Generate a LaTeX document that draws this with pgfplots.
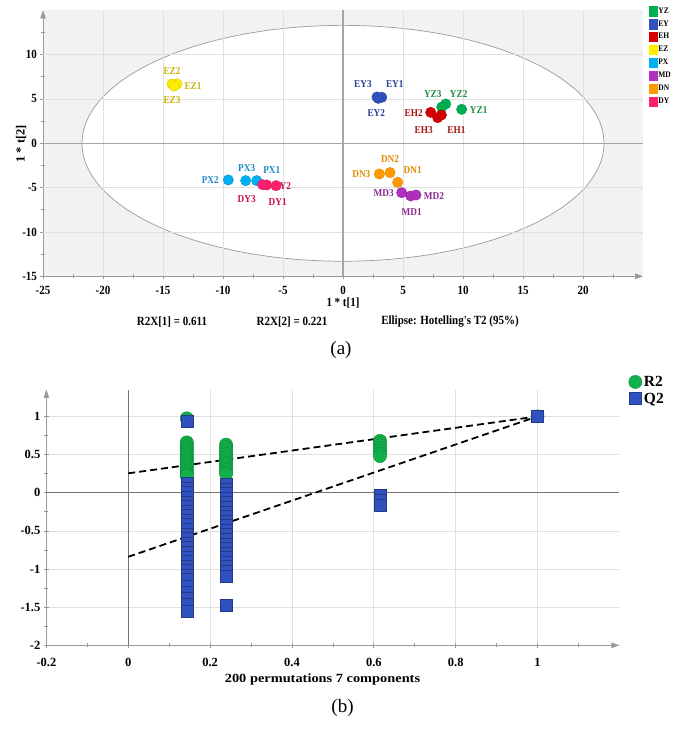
\documentclass[border=0pt]{standalone}
\usepackage{fontspec}
\setmainfont{Liberation Serif}
\newfontfamily\chartfont{Liberation Serif}[FakeStretch=0.88]
\newfontfamily\widefont{Liberation Serif}[FakeStretch=1.15]
\usepackage{pgfplots}
\pgfplotsset{compat=1.18}
\usepackage{pgfplotstable}
\usetikzlibrary{arrows.meta}

% group colours (marker fill / label text)
\definecolor{cYZ}{HTML}{00B050}\definecolor{lYZ}{HTML}{1A9040}
\definecolor{cEY}{HTML}{3052BE}\definecolor{lEY}{HTML}{2B3F95}
\definecolor{cEH}{HTML}{D40000}\definecolor{lEH}{HTML}{A81414}
\definecolor{cEZ}{HTML}{FFEE00}\definecolor{lEZ}{HTML}{C8B400}
\definecolor{cPX}{HTML}{00B0F0}\definecolor{lPX}{HTML}{1A8CC4}
\definecolor{cMD}{HTML}{B030BE}\definecolor{lMD}{HTML}{8C2A92}
\definecolor{cDN}{HTML}{FF9A00}\definecolor{lDN}{HTML}{E08A00}
\definecolor{cDY}{HTML}{FF1F6E}\definecolor{lDY}{HTML}{C8104E}
\definecolor{gR}{HTML}{12B04A}
\definecolor{gQ}{HTML}{3052C0}
\definecolor{axgray}{HTML}{9A9A9A}

\newcommand\tickfont{\chartfont\bfseries\fontsize{12.5}{13}\selectfont}
\newcommand\tickfontb{\bfseries\fontsize{12.5}{13}\selectfont}
\newcommand\labfont{\chartfont\bfseries\fontsize{10.5}{11}\selectfont}
\newcommand\legfont{\chartfont\bfseries\fontsize{8.5}{9}\selectfont}
\newcommand\panelfont{\fontsize{19}{20}\selectfont}

\pgfplotsset{
  plainaxis/.style={
    scale only axis, anchor=south west,
    axis lines=left,
    axis line style={draw=axgray, line width=0.9pt, -{Triangle[length=8pt,width=5.5pt]}},
    tick align=center, major tick length=5pt, minor tick length=4pt,
    every tick/.style={draw=axgray, line width=0.7pt},
    /pgf/number format/assume math mode=true,
    clip=false,
  },
  grouplabels/.style={only marks, mark=*, mark options={draw=none, fill=none}, forget plot,
    point meta=explicit symbolic, nodes near coords,
    visualization depends on={\thisrow{dx} \as \lblx},
    visualization depends on={\thisrow{dy} \as \lbly},
    every node near coord/.append style={anchor=center, xshift=\lblx pt,
      yshift=\lbly pt, text=#1, font=\labfont, inner sep=0pt}},
  groupmarks/.style={only marks, mark=*, forget plot, mark size=5.2pt,
    mark options={fill=#1, draw=#1!85!black, line width=0.4pt}},
}

% PCA scores: t[1], t[2], label offset (pt), sample name
\pgfplotstableread{
x y dx dy lab
9.89 3.83 17 -1 YZ1
8.56 4.43 13 10 YZ2
8.23 4.09 -9 13 YZ3
}\tYZ
\pgfplotstableread{
x y dx dy lab
3.23 5.19 13 13 EY1
2.94 5.07 -2 -15 EY2
2.83 5.22 -14 13 EY3
}\tEY
\pgfplotstableread{
x y dx dy lab
8.20 3.19 15 -15 EH1
7.31 3.49 -17 -1 EH2
7.89 2.89 -14 -12 EH3
}\tEH
\pgfplotstableread{
x y dx dy lab
-13.83 6.69 16 -2 EZ1
-14.25 6.69 0 13 EZ2
-14.08 6.46 -2 -14 EZ3
}\tEZ
\pgfplotstableread{
x y dx dy lab
-7.19 -4.21 15 11 PX1
-9.56 -4.13 -18 0 PX2
-8.11 -4.21 1 13 PX3
}\tPX
\pgfplotstableread{
x y dx dy lab
5.64 -5.94 1 -16 MD1
6.08 -5.83 18 -1 MD2
4.89 -5.57 -18 0 MD3
}\tMD
\pgfplotstableread{
x y dx dy lab
4.56 -4.40 15 12 DN1
3.92 -3.31 0 14 DN2
3.03 -3.46 -18 0 DN3
}\tDN
\pgfplotstableread{
x y dx dy lab
-6.36 -4.70 11 -17 DY1
-5.58 -4.78 6 0 DY2
-6.69 -4.67 -16 -14 DY3
}\tDY

% permutation test: correlation with original y, R2 and Q2
\pgfplotstableread{
x y
0.143 0.975
0.143 0.66
0.143 0.635
0.143 0.61
0.143 0.585
0.143 0.56
0.143 0.535
0.143 0.51
0.143 0.485
0.143 0.46
0.143 0.435
0.143 0.41
0.143 0.385
0.143 0.36
0.143 0.335
0.143 0.31
0.143 0.285
0.143 0.26
0.143 0.235
0.143 0.22
0.239 0.63
0.239 0.60
0.239 0.57
0.239 0.54
0.239 0.51
0.239 0.48
0.239 0.45
0.239 0.42
0.239 0.39
0.239 0.36
0.239 0.33
0.239 0.30
0.239 0.27
0.239 0.25
0.615 0.68
0.615 0.65
0.615 0.62
0.615 0.58
0.615 0.55
0.615 0.51
0.615 0.48
1 1
}\tRtwo
\pgfplotstableread{
x y
0.143 0.94
0.143 0.12
0.143 0.06
0.143 0.00
0.143 -0.06
0.143 -0.12
0.143 -0.18
0.143 -0.24
0.143 -0.30
0.143 -0.36
0.143 -0.42
0.143 -0.48
0.143 -0.54
0.143 -0.60
0.143 -0.66
0.143 -0.72
0.143 -0.78
0.143 -0.84
0.143 -0.90
0.143 -0.96
0.143 -1.02
0.143 -1.08
0.143 -1.14
0.143 -1.22
0.143 -1.30
0.143 -1.38
0.143 -1.46
0.143 -1.55
0.239 0.11
0.239 0.05
0.239 -0.01
0.239 -0.07
0.239 -0.13
0.239 -0.19
0.239 -0.25
0.239 -0.31
0.239 -0.37
0.239 -0.43
0.239 -0.49
0.239 -0.55
0.239 -0.61
0.239 -0.67
0.239 -0.73
0.239 -0.79
0.239 -0.85
0.239 -0.91
0.239 -0.97
0.239 -1.03
0.239 -1.09
0.239 -1.48
0.615 -0.03
0.615 -0.10
0.615 -0.17
1 1
}\tQtwo

\begin{document}
\begin{tikzpicture}
\path (0,0) rectangle (683pt,729pt);

% ---------- (a) PCA score plot ----------
\begin{axis}[plainaxis,
  at={(43pt,452.7pt)}, width=600pt, height=266pt,
  xmin=-25, xmax=25, ymin=-15, ymax=15,
  xtick={-25,-20,...,20}, ytick={-15,-10,...,10},
  minor xtick={-22.5,-17.5,...,22.5}, minor ytick={-12.5,-7.5,...,12.5},
  ticklabel style={font=\tickfont},
  xticklabel style={yshift=-4pt},
  axis background/.style={fill=black!5},
  legend style={at={(1.01,1.016)}, anchor=north west, draw=none, fill=none,
    inner sep=0pt, row sep=3.1pt, font=\legfont, cells={anchor=west},
    nodes={inner sep=0.8pt}},
  legend image code/.code={\fill[#1] (0pt,-4.7pt) rectangle (8pt,4.7pt);},
]
% confidence ellipse, grid and zero lines
\filldraw[fill=white, draw=axgray, line width=0.7pt]
  (axis cs:0,0) ellipse [x radius=21.75, y radius=13.3];
\pgfplotsinvokeforeach{-20,-15,-10,-5,5,10,15,20}{
  \draw[black!12, line width=0.7pt] (axis cs:#1,-15) -- (axis cs:#1,15);}
\pgfplotsinvokeforeach{-10,-5,5,10}{
  \draw[black!12, line width=0.7pt] (axis cs:-25,#1) -- (axis cs:25,#1);}
\draw[black!35, line width=1.2pt] (axis cs:0,-15) -- (axis cs:0,15);
\draw[black!35, line width=1.2pt] (axis cs:-25,0) -- (axis cs:25,0);

\addplot[grouplabels=lYZ] table[x=x,y=y,meta=lab]{\tYZ};
\addplot[grouplabels=lEY] table[x=x,y=y,meta=lab]{\tEY};
\addplot[grouplabels=lEH] table[x=x,y=y,meta=lab]{\tEH};
\addplot[grouplabels=lEZ] table[x=x,y=y,meta=lab]{\tEZ};
\addplot[grouplabels=lPX] table[x=x,y=y,meta=lab]{\tPX};
\addplot[grouplabels=lMD] table[x=x,y=y,meta=lab]{\tMD};
\addplot[grouplabels=lDN] table[x=x,y=y,meta=lab]{\tDN};
\addplot[grouplabels=lDY] table[x=x,y=y,meta=lab]{\tDY};

\addplot[groupmarks=cYZ] table[x=x,y=y]{\tYZ};
\addplot[groupmarks=cEY] table[x=x,y=y]{\tEY};
\addplot[groupmarks=cEH] table[x=x,y=y]{\tEH};
\addplot[groupmarks=cEZ] table[x=x,y=y]{\tEZ};
\addplot[groupmarks=cPX] table[x=x,y=y]{\tPX};
\addplot[groupmarks=cMD] table[x=x,y=y]{\tMD};
\addplot[groupmarks=cDN] table[x=x,y=y]{\tDN};
\addplot[groupmarks=cDY] table[x=x,y=y]{\tDY};

\addlegendimage{cYZ}\addlegendentry{YZ}
\addlegendimage{cEY}\addlegendentry{EY}
\addlegendimage{cEH}\addlegendentry{EH}
\addlegendimage{cEZ}\addlegendentry{EZ}
\addlegendimage{cPX}\addlegendentry{PX}
\addlegendimage{cMD}\addlegendentry{MD}
\addlegendimage{cDN}\addlegendentry{DN}
\addlegendimage{cDY}\addlegendentry{DY}
\end{axis}

\node[font=\tickfontb, rotate=90] at (21pt,585pt) {1 * t[2]};
\node[font=\tickfont] at (343pt,426pt) {1 * t[1]};
\node[font=\tickfont] at (172pt,407pt) {R2X[1] = 0.611};
\node[font=\tickfont] at (292pt,407pt) {R2X[2] = 0.221};
\node[font=\tickfont] at (450pt,407pt) {Ellipse: Hotelling's T2 (95\%)};
\node[font=\panelfont] at (341pt,379pt) {(a)};

% ---------- (b) permutation test ----------
\begin{axis}[plainaxis,
  at={(46.4pt,83.7pt)}, width=573pt, height=255.6pt,
  xmin=-0.2, xmax=1.2, ymin=-2, ymax=1.35,
  xtick={-0.2,0,0.2,0.4,0.6,0.8,1}, ytick={-2,-1.5,-1,-0.5,0,0.5,1},
  minor xtick={-0.1,0.1,0.3,0.5,0.7,0.9,1.1},
  minor ytick={-1.75,-1.25,-0.75,-0.25,0.25,0.75,1.25},
  ticklabel style={font=\tickfontb},
  xticklabel style={yshift=-7pt},
  grid=major, major grid style={draw=black!12, line width=0.7pt},
  legend style={at={(1.016,1.062)}, anchor=north west, draw=none, fill=none,
    inner sep=0pt, row sep=1pt, font=\bfseries\fontsize{15.5}{16}\selectfont,
    cells={anchor=west}},
]
\draw[black!55, line width=0.8pt] (axis cs:0,-2) -- (axis cs:0,1.35);
\draw[black!55, line width=0.8pt] (axis cs:-0.2,0) -- (axis cs:1.2,0);

\addplot[only marks, mark=*, mark size=6.6pt,
  mark options={fill=gR, draw=gR!80!black, line width=0.4pt}] table{\tRtwo};
\addlegendentry{R2}
\addplot[only marks, mark=square*, mark size=6pt,
  mark options={fill=gQ, draw=gQ!70!black, line width=0.5pt}] table{\tQtwo};
\addlegendentry{Q2}

\addplot[forget plot, black, line width=1.8pt, dash pattern=on 7pt off 4pt]
  coordinates {(0,0.254) (1,1)};
\addplot[forget plot, black, line width=1.8pt, dash pattern=on 7pt off 4pt]
  coordinates {(0,-0.84) (1,1)};
\end{axis}

\node[font=\widefont\bfseries\fontsize{12.5}{13}\selectfont] at (322.5pt,50pt)
  {200 permutations 7 components};
\node[font=\panelfont] at (342.5pt,21pt) {(b)};
\end{tikzpicture}
\end{document}
